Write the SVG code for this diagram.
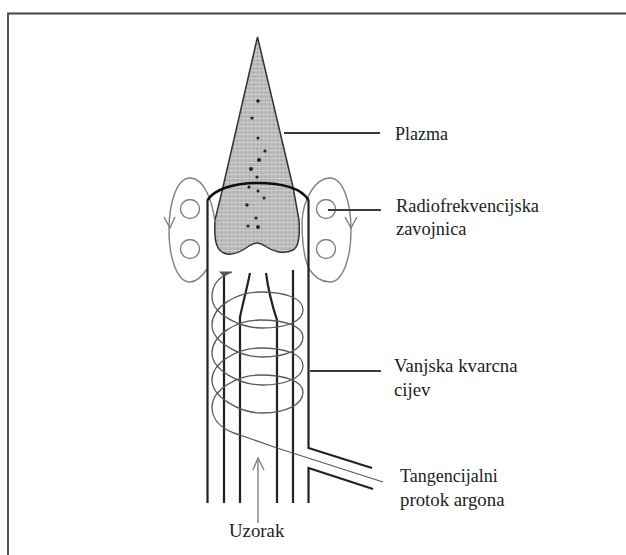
<svg xmlns="http://www.w3.org/2000/svg" width="626" height="555" viewBox="0 0 626 555">
<defs>
<filter id="soft" x="-5%" y="-5%" width="110%" height="110%"><feGaussianBlur stdDeviation="0.45"/></filter>
<pattern id="grain" width="4" height="4" patternUnits="userSpaceOnUse"><rect width="4" height="4" fill="#bcbcbc"/><rect x="1" y="0" width="1" height="4" fill="#a8a8a8"/><rect x="0" y="2" width="4" height="1" fill="#cfcfcf"/></pattern>
</defs>
<style>
.l{fill:none;stroke:#3a3a3a;stroke-width:1.800}
.t{fill:none;stroke:#222;stroke-width:2.200}
.g{fill:none;stroke:#808080;stroke-width:1.400}
.c{fill:none;stroke:#5a5a5a;stroke-width:1.300}
.d{fill:#222}
text{font-family:"Liberation Serif",serif;font-size:18px;fill:#222}
.m{font-size:18.800px}
</style>
<rect width="626" height="555" fill="#fff"/>
<path d="M8 555V13.500H626" fill="none" stroke="#444" stroke-width="1.800" filter="url(#soft)"/>
<g filter="url(#soft)">
<g id="plasma">
<path d="M257.500 37L293 187L299 220C300 235 299 247 293 250C283 255 272 251 265 246C259 242 255 242 249 246C242 251 232 257 224 253C216 250 214 240 215 220L223 187Z" fill="url(#grain)" stroke="#333" stroke-width="1.500"/>
<circle class="d" cx="258" cy="101" r="1.800"/><circle class="d" cx="252" cy="118" r="1.600"/><circle class="d" cx="258" cy="138" r="1.500"/><circle class="d" cx="265" cy="151" r="1.600"/><circle class="d" cx="259" cy="160" r="2"/><circle class="d" cx="251" cy="169" r="2"/><circle class="d" cx="257" cy="177" r="1.600"/><circle class="d" cx="249" cy="187" r="1.600"/><circle class="d" cx="258" cy="191" r="1.500"/><circle class="d" cx="264" cy="198" r="1.500"/><circle class="d" cx="247" cy="205" r="1.700"/><circle class="d" cx="256" cy="218" r="1.600"/><circle class="d" cx="248" cy="226" r="1.600"/><circle class="d" cx="258" cy="227" r="1.900"/>
</g>
<g id="coil-left">
<path class="g" d="M207 269C201 278 196 282 190 282C177 282 169 258 169 230C169 202 177 178 190 178C203 178 212 198 215 222"/>
<circle class="g" cx="190" cy="209" r="9.500"/><circle class="g" cx="190" cy="249" r="9.500"/>
<path class="g" d="M164 217L170 228L175 217"/>
</g>
<g id="coil-right">
<path class="g" d="M309 269C315 278 322 282 330 282C343 282 351 258 351 230C351 202 343 178 330 178C316 178 303 198 302 222C302 240 304 258 309 269"/>
<circle class="g" cx="326" cy="209" r="9.500"/><circle class="g" cx="326" cy="249" r="9.500"/>
<path class="g" d="M345 217L351 228L357 217"/>
</g>
<g id="torch">
<path class="t" d="M207.500 503V200M308.500 200V448L372 468M224 503V272M240 503V317C243 303 247 288 250 273M277 503V320C272 305 268 288 266 273M293 503V270M308.500 503V468L373 489"/>
<path d="M207.500 200C214 190 232 183 257 183C284 183 301 188 308.500 200" fill="none" stroke="#111" stroke-width="2.600"/>
<path d="M219 271.500H232L224 277Z" fill="#555"/>
</g>
<g id="helix">
<path class="c" d="M232 272C218 276 212 286 212 297C212 314 240 328 262 328C285 328 303 322 303 310C303 298 285 292 260 292C235 292 212 308 212 325C212 342 240 357 262 357C285 357 303 350 303 337C303 326 285 320 260 320C235 320 212 336 212 353C212 370 240 385 262 385C285 385 303 378 303 366C303 354 285 348 260 348C235 348 212 364 212 380C212 397 240 413 262 413C285 413 303 405 303 392C303 381 285 375 260 375C235 375 212 391 212 407C212 420 222 430 240 435L277 448L383 482"/>
</g>
<g id="connectors">
<path class="l" d="M284 133H380M328 210H381M310 371H381"/>
<path class="g" d="M258 459V523"/>
<path class="g" d="M253 470L258 458L264 470"/>
</g>
</g>
<g id="labels">
<text x="395" y="140">Plazma</text>
<text x="396" y="212" font-size="18.400" style="font-size:18.400px">Radiofrekvencijska</text>
<text x="396" y="235" style="font-size:18.400px">zavojnica</text>
<text class="m" x="394" y="372">Vanjska kvarcna</text>
<text class="m" x="394" y="396">cijev</text>
<text x="400" y="482">Tangencijalni</text>
<text class="m" x="400" y="506">protok argona</text>
<text class="m" x="229" y="537">Uzorak</text>
</g>
</svg>
